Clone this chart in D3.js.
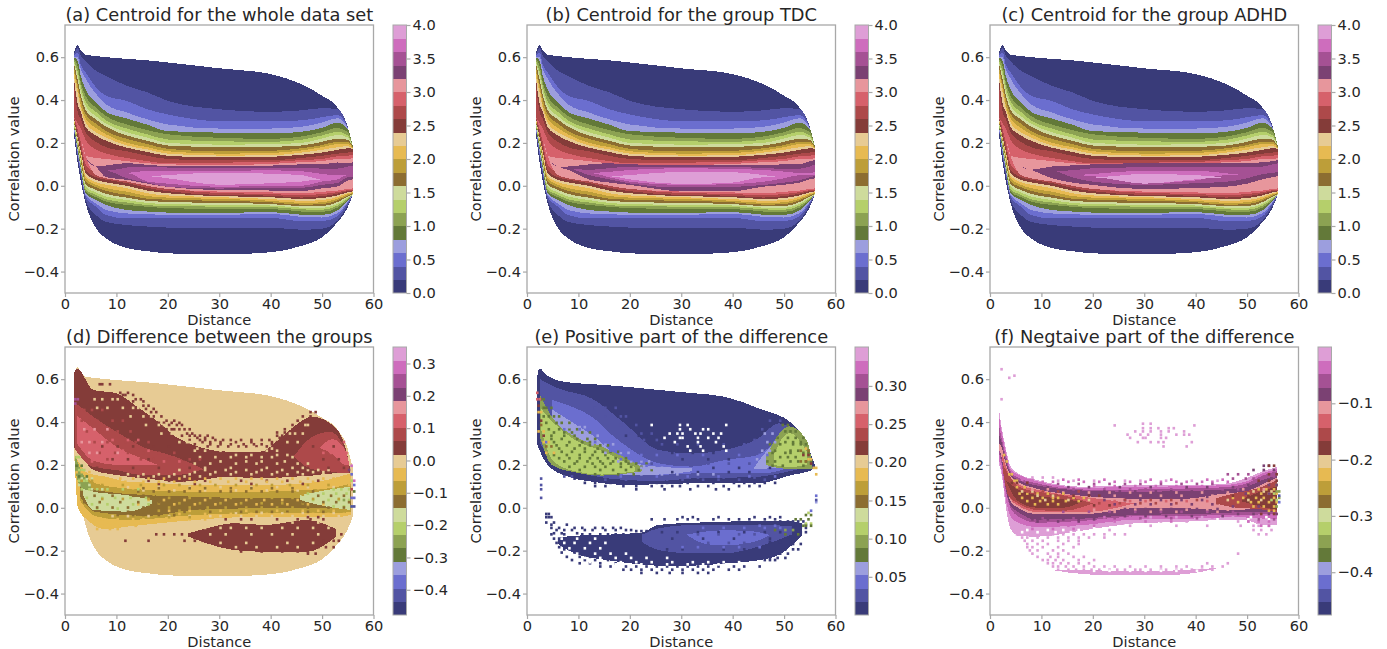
<!DOCTYPE html>
<html>
<head>
<meta charset="UTF-8">
<title>Centroids</title>
<script src="https://d3js.org/d3.v7.min.js"></script>
<style>
body { margin: 0; background: white; }
text { font-family: "DejaVu Sans", sans-serif; fill: #262626; }
</style>
</head>
<body>
<svg id="chart" width="1387" height="649"></svg>
<script>
// tab20b colours, one per level of the colour bars
var levelColors = ["#393b79","#5254a3","#6b6ecf","#9c9ede","#637939","#8ca252","#b5cf6b","#cedb9c","#8c6d31","#bd9e39","#e7ba52","#e7cb94","#843c39","#ad494a","#d6616b","#e7969c","#7b4173","#a55194","#ce6dbd","#de9ed6"];

var titles = ["(a) Centroid for the whole data set","(b) Centroid for the group TDC","(c) Centroid for the group ADHD","(d) Difference between the groups","(e) Positive part of the difference","(f) Negtaive part of the difference"];
var xTicks = [0,10,20,30,40,50,60];
var yTicks = [-0.4,-0.2,0,0.2,0.4,0.6];
var barDomains = [[0,4],[0,4],[0,4],[-0.478,0.351],[0,0.351],[-0.476,0]];
var barTicks = [
  [0,0.5,1,1.5,2,2.5,3,3.5,4],[0,0.5,1,1.5,2,2.5,3,3.5,4],[0,0.5,1,1.5,2,2.5,3,3.5,4],
  [-0.4,-0.3,-0.2,-0.1,0,0.1,0.2,0.3],[0.05,0.1,0.15,0.2,0.25,0.3],[-0.4,-0.3,-0.2,-0.1]
];
var barFormats = [".1f",".1f",".1f",".1f",".2f",".1f"];

// distances where the band edges of the three centroids were read
var knots = [1.75,2.5,3,4,6,8,12,16,20,30,40,46,50,53,55,56];

// upper edge of each level (value >= level), levels 0..15, same for a, b, c at this scale
var edgeTop = [
  [.62,.657,.635,.612,.605,.6,.592,.585,.575,.548,.521,.474,.42,.365,.275,.18],
  [.612,.642,.61,.58,.537,.513,.466,.436,.396,.357,.345,.352,.362,.358,.272,.18],
  [.607,.62,.57,.53,.46,.42,.396,.357,.333,.302,.302,.305,.32,.33,.27,.18],
  [.603,.6,.55,.5,.43,.38,.342,.31,.286,.267,.267,.275,.295,.315,.268,.18],
  [.599,.58,.52,.45,.39,.345,.314,.285,.255,.248,.244,.252,.27,.295,.265,.18],
  [.59,.555,.49,.42,.365,.325,.286,.26,.24,.224,.219,.23,.25,.27,.25,.18],
  [.583,.53,.47,.395,.345,.305,.267,.24,.216,.208,.205,.215,.235,.252,.235,.18],
  [.575,.51,.45,.375,.325,.29,.25,.225,.2,.192,.194,.2,.22,.238,.225,.18],
  [.568,.49,.43,.355,.31,.275,.235,.21,.188,.181,.182,.188,.205,.22,.215,.18],
  [.55,.466,.41,.335,.29,.255,.219,.195,.172,.161,.163,.175,.19,.205,.205,.178],
  [.53,.45,.385,.315,.27,.24,.201,.18,.161,.15,.153,.165,.18,.195,.195,.176],
  [.51,.428,.37,.295,.25,.225,.188,.17,.15,.141,.142,.155,.168,.18,.185,.174],
  [.498,.38,.35,.275,.235,.21,.178,.158,.14,.132,.135,.145,.155,.168,.175,.172],
  [.47,.34,.315,.25,.205,.18,.161,.14,.125,.118,.119,.13,.14,.15,.155,.16],
  [.32,.29,.27,.215,.17,.15,.13,.115,.105,.108,.111,.12,.125,.138,.14,.145],
  [.32,.27,.23,.14,.13,.125,.115,.105,.1,.097,.102,.11,.115,.125,.125,.13]
];
var edgeBot = [
  [.24,.1,.03,-.08,-.197,-.245,-.29,-.305,-.315,-.32,-.31,-.28,-.24,-.17,-.1,-.04],
  [.26,.13,.06,-.066,-.136,-.168,-.183,-.19,-.195,-.199,-.195,-.205,-.2,-.162,-.09,-.04],
  [.265,.14,.07,-.05,-.097,-.136,-.152,-.152,-.152,-.152,-.15,-.165,-.165,-.142,-.08,-.04],
  [.27,.15,.08,-.042,-.082,-.113,-.129,-.133,-.135,-.136,-.13,-.145,-.148,-.128,-.075,-.04],
  [.275,.16,.09,-.034,-.066,-.089,-.113,-.12,-.125,-.127,-.122,-.135,-.136,-.115,-.07,-.04],
  [.28,.17,.1,-.027,-.053,-.074,-.089,-.098,-.104,-.108,-.108,-.12,-.122,-.102,-.065,-.04],
  [.285,.18,.11,-.016,-.042,-.063,-.078,-.09,-.095,-.097,-.099,-.11,-.112,-.092,-.06,-.04],
  [.29,.19,.12,-.003,-.031,-.05,-.066,-.08,-.085,-.089,-.092,-.102,-.103,-.084,-.055,-.04],
  [.295,.2,.13,.008,-.019,-.038,-.055,-.07,-.075,-.08,-.085,-.095,-.095,-.076,-.05,-.038],
  [.3,.205,.14,.02,-.006,-.024,-.042,-.06,-.065,-.07,-.077,-.088,-.086,-.068,-.045,-.036],
  [.305,.21,.15,.036,.005,-.011,-.027,-.048,-.055,-.061,-.07,-.08,-.077,-.06,-.04,-.034],
  [.31,.215,.16,.047,.017,.005,-.011,-.035,-.045,-.053,-.062,-.07,-.067,-.052,-.035,-.03],
  [.315,.22,.17,.06,.028,.016,0,-.022,-.035,-.048,-.053,-.062,-.057,-.045,-.03,-.026],
  [.32,.235,.185,.075,.04,.028,.013,-.01,-.025,-.043,-.046,-.055,-.048,-.037,-.025,-.022],
  [.32,.26,.21,.1,.06,.044,.031,.005,-.012,-.034,-.038,-.045,-.038,-.03,-.02,-.018],
  [.32,.27,.23,.14,.05,.035,.02,0,-.015,-.027,-.031,-.035,-.028,-.022,-.015,-.012]
];

// levels 16..19 differ between the three centroids
var coreTopA = [
  [.32,.27,.23,.13,.09,.095,.106,.098,.092,.09,.094,.1,.1,.109,.105,.11],
  [.12,.12,.12,.12,.07,.07,.085,.09,.085,.083,.083,.085,.08,.08,.09,.095],
  [.06,.06,.06,.06,.06,.06,.06,.07,.07,.07,.072,.068,.055,.05,.05,.05],
  [.045,.045,.045,.045,.045,.045,.045,.045,.05,.062,.056,.05,.03,.03,.03,.03]
];
var coreBotA = [
  [.32,.27,.23,.13,.09,.04,.028,.01,-.005,-.02,-.022,-.025,-.012,-.003,.025,.03],
  [.12,.12,.12,.12,.07,.07,.035,.015,-.005,-.013,-.008,-.01,.005,.013,.04,.04],
  [.06,.06,.06,.06,.06,.06,.06,.02,.01,-.005,0,0,.02,.03,.05,.05],
  [.045,.045,.045,.045,.045,.045,.045,.045,.035,.005,.012,.02,.03,.03,.03,.03]
];
var coreTopB = [
  [.32,.27,.23,.13,.09,.09,.1,.105,.1,.097,.097,.097,.1,.1,.115,.12],
  [.08,.08,.08,.08,.08,.08,.074,.082,.089,.089,.089,.082,.08,.08,.09,.1],
  [.06,.06,.06,.06,.06,.06,.06,.065,.074,.082,.078,.074,.066,.06,.06,.065],
  [.045,.045,.045,.045,.045,.045,.045,.045,.05,.066,.064,.05,.04,.04,.04,.04]
];
var coreBotB = [
  [.32,.27,.23,.13,.09,.075,.03,.015,.004,-.025,-.025,-.004,.005,.015,.03,.035],
  [.08,.08,.08,.08,.08,.08,.05,.03,.011,-.008,-.005,.004,.015,.025,.04,.045],
  [.06,.06,.06,.06,.06,.06,.06,.04,.019,.004,.008,.019,.035,.05,.05,.05],
  [.045,.045,.045,.045,.045,.045,.045,.045,.03,.008,.015,.04,.04,.04,.04,.04]
];
var coreTopC = [
  [.32,.27,.23,.13,.09,.075,.09,.095,.1,.105,.105,.105,.105,.11,.115,.12],
  [.07,.07,.07,.07,.07,.07,.07,.072,.082,.086,.086,.086,.088,.09,.1,.105],
  [.05,.05,.05,.05,.05,.05,.05,.05,.055,.071,.071,.058,.05,.05,.05,.05],
  [.04,.04,.04,.04,.04,.04,.04,.04,.04,.055,.05,.04,.04,.04,.04,.04]
];
var coreBotC = [
  [.32,.27,.23,.13,.09,.075,.035,.015,.004,-.016,-.01,-.004,.01,.03,.04,.045],
  [.07,.07,.07,.07,.07,.07,.07,.04,.019,.004,.012,.019,.035,.055,.06,.065],
  [.05,.05,.05,.05,.05,.05,.05,.05,.045,.012,.025,.05,.05,.05,.05,.05],
  [.04,.04,.04,.04,.04,.04,.04,.04,.04,.01,.03,.04,.04,.04,.04,.04]
];

// regions of the difference maps: [level, distances, upper edge, lower edge], painted in order
var regionsD = [
  [11,knots,edgeTop[0],edgeBot[0]],
  [10,[2,2.5,4.5,8,12,18.5,25,38,44.5,51,54,55.7],[.24,.22,.16,.145,.122,.115,.106,.106,.11,.13,.15,.16],[.16,0,-.06,-.1,-.088,-.072,-.057,-.041,-.041,-.041,-.041,-.03]],
  [9,[3,6,12,25,38,51,55.7],[.16,.114,.09,.075,.075,.09,.114],[.03,-.04,-.057,-.034,-.026,-.026,-.02]],
  [8,[3,6,16,25,38,51,55.7],[.13,.083,.059,.052,.044,.052,.08],[.05,-.02,-.038,-.01,-.002,-.002,0]],
  [7,[3.5,5.5,12,17],[.1,.075,.059,.036],[.06,-.01,-.018,.021]],
  [7,[45.7,51,55.5],[.059,.083,.099],[.036,.005,-.01]],
  [5,[1.9,3.2,5],[.25,.17,.11],[.18,.09,.08]],
  [12,[1.75,2.3,5.5,10,14,18.5,21.5,25,31.5,38,41.5,44.5,48,52,54.5,55.5],[.63,.65,.55,.534,.472,.394,.332,.293,.262,.262,.316,.378,.425,.386,.285,.176],[.28,.27,.176,.153,.14,.13,.122,.125,.145,.137,.14,.145,.15,.16,.16,.16]],
  [13,[2,5.5,10,15,21.5,27],[.49,.425,.355,.285,.238,.18],[.27,.19,.176,.153,.153,.18]],
  [13,[44.5,48,51.5,54.5,55.3],[.24,.33,.355,.27,.18],[.24,.18,.17,.16,.16]],
  [14,[2.3,5.5,10,15,18],[.43,.37,.285,.23,.2],[.3,.22,.2,.2,.2]],
  [14,[49.5,52,54.5,55.3],[.28,.32,.27,.2],[.28,.25,.2,.2]],
  [12,[24,27.6,32.8,39.2,47,52.8],[-.119,-.096,-.072,-.08,-.057,-.1],[-.134,-.166,-.197,-.205,-.205,-.134]]
];
var regionsE = [
  [0,[1.9,2.4,4,8,12.6,19,25.5,32,38.5,45,51.5,54,55.4,56],[.6,.65,.615,.585,.577,.565,.55,.535,.518,.464,.394,.32,.238,.2],[.3,.27,.2,.145,.122,.106,.11,.114,.114,.114,.153,.165,.176,.19]],
  [1,[2.5,6.1,12.6,19,25.5,32,38.5,45,49,54.5],[.6,.557,.51,.394,.27,.254,.27,.325,.394,.3],[.3,.2,.15,.13,.125,.137,.14,.145,.16,.19]],
  [2,[4.8,8.7,12.6,16.5,20.4,25.5,32,38.5,45,49.5,53.4],[.503,.472,.425,.34,.27,.208,.192,.223,.247,.317,.254],[.24,.18,.155,.153,.153,.153,.16,.16,.16,.175,.22]],
  [3,[4.8,6.1,12.6,19,25.5,32],[.46,.44,.34,.223,.192,.184],[.3,.26,.17,.155,.155,.17]],
  [3,[44,49.5,53.4],[.18,.31,.25],[.18,.19,.22]],
  [5,[2.5,4.8,9.4,14.6,22.4],[.53,.425,.331,.285,.19],[.33,.2,.165,.15,.17]],
  [5,[46.5,51,54.5,55.5],[.24,.38,.31,.2],[.2,.18,.18,.18]],
  [6,[2.8,5,9.4,14.6,21],[.46,.4,.315,.265,.19],[.36,.22,.17,.155,.17]],
  [6,[48,51,54.5],[.25,.35,.26],[.2,.19,.2]],
  [0,[6.1,9.4,15.9,22.4,25.5,32,38.5,45,49,53.4],[-.14,-.13,-.125,-.115,-.08,-.07,-.065,-.06,-.06,-.07],[-.17,-.215,-.245,-.265,-.27,-.27,-.26,-.245,-.22,-.13]],
  [1,[22.4,25.5,32,38.5,45,51.5],[-.125,-.096,-.08,-.08,-.08,-.085],[-.16,-.197,-.212,-.212,-.181,-.125]],
  [2,[31,35,38.5,44,47],[-.125,-.11,-.105,-.11,-.125],[-.125,-.17,-.175,-.16,-.13]]
];
var fKnots = [1.8,2.3,3,4,5.5,9,18.5,28,38,45,49.5,53,55.8];
var regionsF = [
  [19,fKnots,[.45,.37,.285,.192,.16,.13,.098,.106,.106,.11,.135,.17,.19],[.2,.15,.02,-.1,-.13,-.135,-.104,-.073,-.065,-.057,-.057,-.08,-.08]],
  [18,fKnots,[.42,.35,.27,.18,.155,.125,.093,.098,.1,.105,.12,.16,.18],[.22,.17,.05,-.04,-.07,-.09,-.08,-.055,-.052,-.045,-.045,-.05,-.05]],
  [17,fKnots,[.38,.32,.25,.17,.14,.115,.085,.085,.09,.095,.11,.15,.17],[.25,.2,.09,0,-.04,-.07,-.06,-.04,-.038,-.035,-.035,-.03,-.03]],
  [16,fKnots,[.34,.3,.23,.16,.13,.105,.08,.075,.078,.085,.095,.13,.15],[.27,.22,.1,.01,-.02,-.055,-.05,-.033,-.03,-.025,-.02,-.02,-.02]],
  [15,fKnots,[.3,.28,.21,.15,.12,.09,.055,.042,.042,.065,.075,.11,.14],[.27,.23,.12,.03,0,-.03,-.03,-.002,-.002,-.01,-.008,-.005,-.01]],
  [14,[2.3,3,4,5.5,9,18.5,28],[.26,.2,.14,.11,.085,.05,.02],[.24,.13,.04,.01,-.02,-.02,.02]],
  [13,[2.5,3.5,5.5,9,14,20],[.2,.16,.1,.075,.06,.02],[.18,.06,.02,-.01,-.015,.02]],
  [13,[44,48,52,55.8],[.045,.07,.09,.13],[.02,0,-.005,-.02]],
  [12,[3,5.5,9,14,18],[.13,.085,.06,.04,.03],[.13,.03,0,0,.03]],
  [12,[49,52,55.8],[.04,.07,.1],[.03,.01,-.01]],
  [19,[12,18.5,25,31.5,38,44.4],[-.29,-.29,-.295,-.295,-.29,-.28],[-.29,-.31,-.315,-.315,-.31,-.28]]
];

// single noisy cells: [level (-1 is empty), correlation, distance, distance, ...]
var specksD = [
  [12,.57,6.5,7,8.5],[12,.53,10.5,12],[12,.52,9,11,11.5,13],[12,.5,13.5,14.5],[12,.49,12,13,15],[12,.47,15,16],[12,.455,14,15.5,17],[12,.44,16.5,17.5],[12,.42,16,17,18.5,46,47.5],[12,.44,47.5,48.5],[12,.4,19.5,21,45,46.5],[12,.39,18,19,20.5,22],[12,.38,20,21.5,22.5,44,45.5],[12,.36,19.5,20.5,21,22,23,24,42.5,44,45],[12,.345,41,42.5,43.5],[12,.34,23.5,24.5],[12,.33,22.5,24,25,26,27.5,41,42],
  [12,.32,25.5,27,28.5,41.5,43],[12,.31,24,26,27,29,30.5,32,34,36,38,39.5,42.5],[12,.3,26.5,28,30,33,36,40,41],[12,.29,25,28,30,32,34.5,36.5,38,40,42],[12,.28,27.5,29.5,31.5,33.5,35,37,39,42],
  [11,.5,5.5,7,9,10],[11,.46,6,8,11,13,14],[11,.42,12.5,15,16.5],[11,.38,15.5,18,19,46.5,47],[11,.34,18.5,20.5,21,43.5,44.5,46],[11,.3,22,23.5,24,43,45],[11,.27,25.5,28,31,34,37,40],[11,.26,25,27,30,33,36,39,41],[11,.24,33,36,41,43],[11,.23,26,29,32,35,38,40,44],[11,.21,30,35,38,42.5],[11,.2,25,28,33,37,41,45,47],[11,.18,27,32,39,44,46],[11,.17,22,27,31,35,38,42,47,49,51],[11,.16,25,29,33,37,41,45,48,50],[11,.15,12,15,18,21,24,28,32,36,40,43,46,50,52],[11,.14,14,17,20,23,26],
  [12,.12,16,20,23,27,34,39,43,49],[12,.105,18,25,36,46],
  [10,.13,8,10.5,13,16,19,22,24,27,30,33,36,38,41,44,47,50,52],[10,.115,6,9,11.5,15,18,21,25,28,31.5,35,39,42,45.5,48,51,53.5],[10,-.06,5,7,10,13,15,19,21.5,24,27],[10,-.075,8,9.5,12,14.5,17],[10,-.09,7,10.5,13.5],[10,-.105,6,8.5,10],
  [11,-.045,9,12,16,20,24,28,30,34,37,40,44,47,50,53],[11,-.03,33,38,42,46,52],[11,.09,12,18,24,30,36,41,47,52],[11,.075,15,21,27,33,39,45],
  [9,.1,7,11,14.5,19,22,26,29,33,37,40,43.5,47,51],[10,.085,13,16,20,23,25,28,31,35,38,42,45,49],[9,-.02,18,22,26,29,33,36,39,42,45,48,51],[9,-.05,8,11,14,17,20,24],[9,.04,20,24,28,32,36,40,44],[9,.015,18,22,26,30,34,38,42,46],[9,-.005,20,24,27.5,31,35,38,41,44,47],[9,.055,17,19,22,25,29,34,37,41,46],
  [8,.07,14,17,20,23,26,30,32,35,38,41,44,48],[8,.085,15,18,24,27,32,36,40,44],[8,-.025,12,16,19,23,28,34,37,40,43,47,50],[8,-.04,10,13,15,18,21],[10,.03,16,19,23,27,31,35,38.5,42,45],[10,.01,14,21,25,29,33,37,40,43,47,50],[10,-.02,20,24,30,35,41,46,49,52],[10,-.035,22,27,32,36,39,43,48,51,54],
  [6,.23,2,2.5],[6,.17,2.5,3,3.5],[6,.12,2.5,3.5,4],[6,.08,3,4.5,6,8,11,14,52,53.5,55],[6,.04,4,7,9.5,12.5,15.5],[6,.01,5,8,13,16],[6,-.01,6,10],[6,.06,47,50,52.5,54.5],[6,.03,48,51,53,55],[6,0,52,54,55.5],
  [7,.13,3,4,5],[7,.1,2.5,4.5],[7,.08,5,7],[10,.16,2,3,4.5],[9,.12,3,5],[4,.19,2,3],[4,.14,2.5,4],
  [8,.05,5.5,9,13,15,49,51.5,54],[8,.02,3.5,6.5,10.5,14,18,46,50,52.5,55],[8,-.005,6,9,12,15,47,51,54],[9,.035,7,11,16,48,53],
  [17,.5,1.75,2.25],[17,.48,1.75],[2,.15,55.5],[2,.1,56],[2,.04,55.5,56],[18,.19,55.5],[18,.12,56],[1,0,55.5,56],[4,.07,56],[6,.12,55.5],[13,.08,55.5],[5,.03,54],[10,.1,55],[16,.17,55],
  [14,.25,50,51.5,53,54.5],[14,.3,51,52.5,54],[13,.45,2.5,3.5,5,7],[13,.4,3,4.5,6,9,11],[13,.35,4,7,10,12.5],[13,.3,5.5,8,11.5,13.5,16],[13,.25,6.5,9.5,12,15,18,21],[13,.22,8,14.5,17,20,24,26],
  [15,.36,3.5,5.5,8],[15,.3,3,4.5,7],[15,.25,4.5,6,10],[14,.31,6,9,12,14],[14,.26,8,11,16],[14,.21,5,10.5,15.5,19,22],[12,.28,7,10,13,17,20,48,52],[12,.22,9,12,16,23,50,53],[12,.18,6,13,18,24,47,51,54],
  [12,-.06,31,34,36,41,45,47.5,50],[12,-.05,47,49],[12,-.21,34,38,42,45,47],[12,-.22,47,48.5],[12,-.19,49,50.5,52],[12,-.16,23,25,26.5,50,52,53,11.5,16],[12,-.13,17.5,19,21,22.5,53.5],
  [11,-.1,27,30,32,35,38,42,45,48,51],[11,-.13,28,31,36,40,44,49],[11,-.17,30,35,43,48],[11,-.075,34,39,44,49],[11,-.19,33,37,41,45]
];
var specksE = [
  [0,.11,11,13,16,17.5,20,23,25,27,31,36,40,42,44,46,48],[0,.095,13,15,18.5,21,24,26,28,29.5,33,35,38,41,43,45],[0,.08,21,26.5,31.5,36.5,39],[0,.13,9,10,12,14],
  [1,.125,15,19,22,24,27,30,34,37,41,46],[1,.14,7,8.5],
  [4,.5,2.5,3],[4,.46,3,3.5,4.5],[4,.42,3,4,5,6],[4,.39,3.5,5.5,6.5,8],[4,.36,4,6,8,9.5],[4,.345,5,7,8.5,10.5,12],[4,.315,4.5,6.5,9.5,11.5,13],[4,.285,5.5,7.5,10,12,14,15.5],[4,.255,6.5,8.5,11,13,14.5,16,17.5],[4,.225,6,8,10,12,13.5,15.5,17,19],[4,.2,9,12.5,14.5,16,18,19.5,21,23],[4,.17,10,14,16.5,19,21.5,24],[4,.15,13,17.5,20.5],
  [4,.33,4.5,7,9],[4,.3,5,8,10.5,12,50,51.5,53],[4,.27,6,9,11,13.5],[4,.24,5,7.5,10,12.5,15],[4,.21,7,9.5,11.5,14,16.5,19],[4,.185,8,11,13,15,18,20,22],[4,.26,48,51,52.5],[4,.23,49,50.5,52],
  [4,.38,49.5,50.5],[4,.35,50,51,52],[4,.32,48.5,50.5,52,53.5],[4,.29,47,49,51.5,53,54],[4,.25,47.5,50,51,53.5,54.5],[4,.21,46.5,48,51,52.5,54,55],[4,.19,47.5,49.5,53.5],
  [3,.37,8,10,11],[3,.33,10,12,13.5],[3,.29,12.5,15,16.5],[3,.25,15,18,19.5],[3,.21,17.5,20,22,23.5],[3,.18,22,24,26],[2,.3,3.5],[3,.34,46,47.5],[3,.3,46.5,48],[3,.26,45.5,47],[3,.22,44.5,46],[2,.24,45,46.5],
  [1,.46,13,15,17],[1,.42,15,18,19],[1,.38,18,21],[1,.34,20,22,24],[1,.31,22.5,25,44,46],[1,.29,26,29,33,38,42],[1,.36,45.5,47],[1,.4,47,49],[0,.33,19,21.5,23],[0,.25,28,32,36],[0,.22,30,35,39],[0,.18,36,41,47],[0,.16,28,33,39,43],
  [1,.2,24,27,31,35,39,43],[2,.24,22,25,29,34,41],[3,.15,22,26,29,33,36],[2,.14,18,25,31,37,43,48],[1,.135,16,20,24,28,33,38,44],
  [-1,.38,24,29.5,31,38.5],[-1,.36,29.5,31.5,34,35],[-1,.34,27.5,29,30,32.5,33.5,36,37.5],[-1,.32,26.5,29.5,30,33,35,37],[-1,.3,28.5,33,36.5],[-1,.28,31,33.5,38],[-1,.26,31.5,34,38.5],
  [0,-.035,3.5,4],[0,-.05,3.5,4,4.5],[0,-.075,3.5,5],[0,-.085,4.5,7.5],[0,-.1,4.5,6,9,10.5,13,14.5,16.5,18],[0,-.11,5.5,7,8.5,11,12.5,15,17,19,20],[0,-.115,21,22,23],[0,-.125,5,6.5,9.5],[0,-.13,4.5,7,10.5,12,14,15.5,17,18.5,20],[0,-.15,5,6],[0,-.165,6],[0,-.18,6.5,7.5],[0,-.2,7,8,9],
  [0,-.06,24,26.5,29,31,33,36,39,41,43,46,48],[0,-.05,30,32,37,44,47,49],[0,-.07,49,50.5,51.5,52.5,53.5],[0,-.085,52,53,54],[0,-.1,51.5,53,54],[0,-.12,52,53,54],[0,-.145,50.5,52],[0,-.165,47,49,51],
  [0,-.28,14,16,19,21,23,25,27,29,31,33,35,37,40,42,45],[0,-.295,18.5,20,22,24,26,28,30,32,34,36,39,41],[0,-.31,22,25,27.5,30,33,35],[0,-.265,10,12,14,17],[0,-.25,8.5,11,13,15.5,46,47,48],[0,-.235,7.5,10,12],[0,-.24,47,48.5,50],[0,-.215,6.5,9],[0,-.22,49,50.5],[0,-.19,6],[0,-.2,50,51.5,52.5],[0,-.175,51.5,53],[0,-.17,5.5],
  [-1,-.26,12,15,18,21,24,28,32,35,38,41],[-1,-.24,11,14,17,20,23,27],[-1,-.22,9.5,13,16,19],[-1,-.195,8,11,14],[-1,-.17,7,9,12,15],[-1,-.15,6.5,9.5,13],[-1,-.27,17,22,27,31,34,37,43],
  [0,-.12,26,29,33,37,42,46,49],[0,-.15,28,34,40,47,51],[0,-.2,27,30,38,42],[2,-.19,30,33,38,41,45],[1,-.17,31,35,39,42],[1,-.13,33,37,41,44],[2,-.1,34,38,42,46,49],[2,-.09,45,48],[5,-.11,50,51.5],[6,-.08,54,55],[6,-.03,54.5],
  [4,-.09,53.5,54,55],[4,-.06,53,54.5,52],[4,-.04,54,55],[4,-.13,50,52.5],[4,-.11,48],[2,-.02,55],[2,.05,56],[3,.02,56],[1,.03,56],[1,.08,2.5],[1,.04,2.5],[1,.13,2.5],[1,.1,2.5],
  [2,.36,7,10,12],[2,.3,13,15],[2,.26,16,18],[2,.22,18,20,22],[2,.19,23,25],
  [10,.44,2,2.5],[10,.35,2,3],[10,.3,3,4],[10,.25,3.5,5],[12,.47,2],[12,.4,2.5],[12,.33,3],[14,.53,1.75],[14,.5,1.75,2.25],[8,.38,2.5],[8,.28,3.5,4.5],
  [10,.27,54],[10,.22,54.5,55],[10,.18,55.5,56],[10,.15,56],[12,.24,53.5,54.5],[12,.2,55],[8,.26,53,54.5],[8,.21,53,54]
];
var specksF = [
  [19,.64,2],[19,.6,3.5],[19,.61,4.5],[19,.5,2],
  [19,.386,29.5,31],[19,.378,24,39.5],[19,.365,29.5,31,32.5,34.5,35.5],[19,.35,28,29.5,31,33,34.5,37.5],[19,.335,26.5,29,30.5,33,36,37.5,38.5],[19,.32,27,29.5,30,33,34],[19,.3,28.5,31,32.5,33.5,39],[19,.28,33.5,38],
  [19,-.13,5,6,7.5,9,10.5,12,14,16,18,20,22,24,26],[19,-.145,6,7,9,11,13,15,17,19,22],[19,-.16,6.5,8,10,13,15,17],[19,-.175,7,9,11,14,17],[19,-.19,7,8,10,13,16],[19,-.205,7.5,9,12,14],[19,-.22,8,11,13,15,48],[19,-.235,9,11.5,13,16,18],[19,-.25,10,11,12.5,14,17,20],[19,-.265,11,12,13.5,15,17,19,42,46],
  [19,-.28,12,13,14.5,16,18,20,22,24,27,30,33,36,38,41,43,45],[19,-.295,13,15,16.5,18,19.5,21,23,24.5,26,28,29,31,33,34,36,37,39,41,43],
  [-1,-.3,20,23,27,30,33,36,40],[-1,-.11,7,11,14,17,21],[-1,-.12,6,9,12.5,15.5],[-1,-.1,20,24],[-1,-.09,26,30],[-1,-.06,44,50,52,54],[-1,-.05,50.5,53.5],
  [19,-.07,48,50,51.5,53,33,38],[19,-.09,48.5,51,52,54,27,31,36,42],[19,-.11,51,52.5,54.5,23],[19,-.13,52,53.5],[18,-.07,50,52,54,24,30,35],[18,-.09,52.5,54,11,15,20],[18,-.105,8,12,16],
  [17,.15,46,48,50],[17,.13,47,49.5,51],[16,.19,53,54],[16,.17,51,53,55],[12,.19,54,55],
  [18,.115,10,12,15,18,21,24,27,30,33,36,38,41,43,46],[18,.125,6,8,14,17,22,31,35,42,45],[19,.135,8,10,12],[19,.12,13,16,20,26,29,34,39,44],
  [17,.105,13,17,20,23,26,29,33,37,40,43],[18,.095,20,24,28,32,36,41,44],[16,.09,11,15,19,25,31,38,42,47],[17,.08,16,22,27,30,35,39,45,48],[16,.07,22,25,28,32,35,39,43,47],[15,.065,14,19,23,27,31,36,41,46],[16,.045,26,30,34,38,42],[15,.05,24,29,33,37,43],
  [15,-.015,20,24,28,33,38,42,46],[16,-.012,26,30,35,40,44],[17,-.025,14,19,23,28,33,37,42,47],[15,-.025,24,31,36,44],[16,-.045,12,18,22,26,30,34,39,45],[17,-.055,10,16,24,29,35,40],[18,-.05,22,27,33,38,43],[19,-.05,31,36,41,47],[16,-.07,9,13,17],
  [10,.24,2.5],[10,.21,3],[10,.15,3.5,4],[10,.12,4.5,5],[10,.09,5,6.5],[10,.06,5.5,7,9,11,14],[10,.04,6,8,10,12,13,16,18],[10,.025,7,9.5,12,14.5,17],[10,.01,8.5,11,13],
  [10,.08,52,53.5,55],[10,.06,50,52.5,54,55.5],[10,.04,47,49,51.5,53,55],[10,.02,48,50.5,52,54,55.5],[10,0,51,53,55],[10,-.02,54,55],
  [11,.07,6,8,51,53,54.5],[11,.05,9,12],[11,.03,10.5,15,19,46,50,52.5],[5,.1,55.5],[5,.07,55.5,56],[5,.04,56],[5,0,55.5],[6,.06,55],[6,.03,54.5,55.5],[1,.05,56],[2,.02,56],
  [16,.055,20,25,30,35,40],[16,.03,22,26,29,33,37,41],[16,.01,24,28,31,35,39,43],[14,.025,24,27,30,34,38,42],[13,.015,21,25,29,32,36,44],[13,.03,26,31,35,40],[12,.005,20,23],[16,-.06,8,11,14,17,20],[12,.11,4,5,7],
  [12,.05,16,19,21,47,50],[13,.07,7,10,13,17],[15,.08,8,11,49,53],[16,.1,50,52,54,55.5],[16,.06,49.5,54],[12,.12,52,54,55.5],[17,.14,53,55],[12,.15,54,55.5],[16,-.035,48,51,54,55.5],[17,-.06,52,55],[12,-.035,52.5,55],[16,.0,47,52]
];

var centroidTops = [coreTopA,coreTopB,coreTopC];
var centroidBots = [coreBotA,coreBotB,coreBotC];
var panelRegions = [null,null,null,regionsD,regionsE,regionsF];
var panelSpecks = [[],[],[],specksD,specksE,specksF];

var colLeft = [65,527,990];
var rowTop = [25,347];
var plotW = 308.5, plotH = 268;
var barGap = 328, barW = 13.5;
var gridColor = "#a8a8a8";

var svg = d3.select("#chart");

function styleAxis(g, size) {
  g.selectAll(".domain").remove();
  g.selectAll("line").attr("stroke", gridColor).attr("stroke-width", 1.2);
  g.selectAll("text").style("font-size", size + "px").attr("fill", "#262626");
}

function region(g, x, y, level, xs, tops, bots) {
  var rows = xs.map(function(d, i) { return {d: d, t: tops[i], b: bots[i]}; });
  var area = d3.area()
    .curve(d3.curveMonotoneX)
    .x(function(r) { return x(r.d); })
    .y0(function(r) { return y(r.b); })
    .y1(function(r) { return y(r.t); });
  g.append("path").attr("d", area(rows)).attr("fill", levelColors[level]).attr("shape-rendering", "crispEdges");
}

titles.forEach(function(title, p) {
  var left = colLeft[p % 3], top = rowTop[p < 3 ? 0 : 1];
  var g = svg.append("g").attr("transform", "translate(" + left + "," + top + ")");
  var x = d3.scaleLinear().domain([0,60]).range([0,plotW]);
  var y = d3.scaleLinear().domain([-0.5,0.75]).range([plotH,0]);

  if (p < 3) {
    var tops = edgeTop.concat(centroidTops[p]);
    var bots = edgeBot.concat(centroidBots[p]);
    tops.forEach(function(t, k) { region(g, x, y, k, knots, t, bots[k]); });
  } else {
    panelRegions[p].forEach(function(r) { region(g, x, y, r[0], r[1], r[2], r[3]); });
  }

  panelSpecks[p].forEach(function(row) {
    row.slice(2).forEach(function(d) {
      g.append("rect")
        .attr("x", x(d))
        .attr("y", y(row[1] + 0.0125))
        .attr("width", x(d + 0.5) - x(d))
        .attr("height", y(row[1]) - y(row[1] + 0.0125))
        .attr("fill", row[0] < 0 ? "white" : levelColors[row[0]]);
    });
  });

  // frame
  g.append("rect").attr("width", plotW).attr("height", plotH)
    .attr("fill", "none").attr("stroke", gridColor).attr("stroke-width", 1.3);

  var xa = g.append("g").attr("transform", "translate(0," + plotH + ")")
    .call(d3.axisBottom(x).tickValues(xTicks).tickSize(4).tickPadding(2));
  styleAxis(xa, 14.6);
  var ya = g.append("g")
    .call(d3.axisLeft(y).tickValues(yTicks).tickFormat(d3.format(".1f")).tickSize(4).tickPadding(2));
  styleAxis(ya, 14.6);

  g.append("text").attr("x", plotW / 2).attr("y", -4.5).attr("text-anchor", "middle")
    .style("font-size", "17.8px").text(title);
  g.append("text").attr("x", plotW / 2).attr("y", plotH + 32).attr("text-anchor", "middle")
    .style("font-size", "14.6px").text("Distance");
  g.append("text").attr("transform", "translate(-46," + (plotH / 2) + ") rotate(-90)")
    .attr("text-anchor", "middle").style("font-size", "14.6px").text("Correlation value");

  // colour bar
  var dom = barDomains[p];
  var bar = g.append("g").attr("transform", "translate(" + barGap + ",0)");
  var by = d3.scaleLinear().domain(dom).range([plotH,0]);
  var step = (dom[1] - dom[0]) / levelColors.length;
  levelColors.forEach(function(c, k) {
    var lo = dom[0] + k * step;
    bar.append("rect").attr("x", 0).attr("width", barW)
      .attr("y", by(lo + step)).attr("height", by(lo) - by(lo + step) + 0.4)
      .attr("fill", c).attr("shape-rendering", "crispEdges");
  });
  bar.append("rect").attr("width", barW).attr("height", plotH)
    .attr("fill", "none").attr("stroke", gridColor).attr("stroke-width", 1);
  var ba = bar.append("g").attr("transform", "translate(" + barW + ",0)")
    .call(d3.axisRight(by).tickValues(barTicks[p]).tickFormat(d3.format(barFormats[p])).tickSize(4).tickPadding(2));
  styleAxis(ba, 14.6);
});
</script>
</body>
</html>
